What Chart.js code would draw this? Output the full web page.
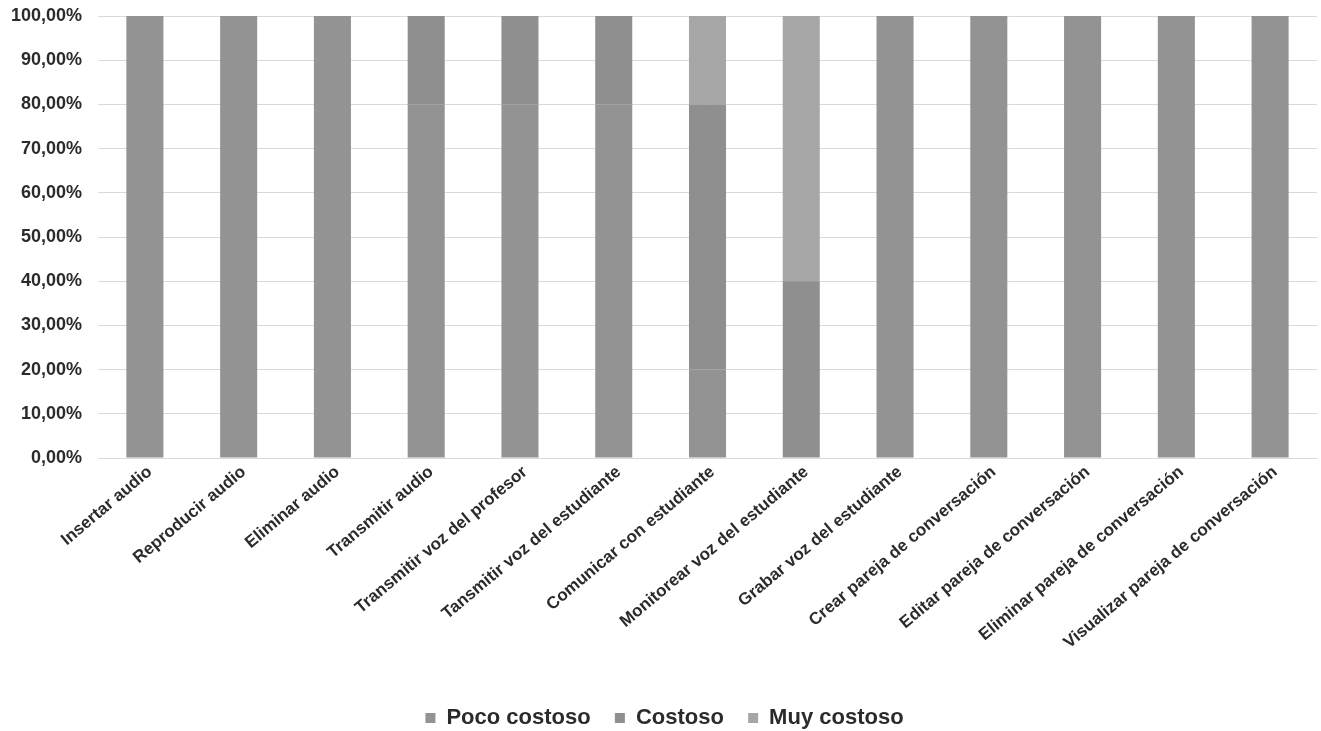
<!DOCTYPE html>
<html>
<head>
<meta charset="utf-8">
<script src="https://cdn.jsdelivr.net/npm/chart.js@4/dist/chart.umd.min.js"></script>
<style>
  html, body { margin: 0; padding: 0; background: #ffffff; }
  #wrap { width: 1321px; height: 731px; }
</style>
</head>
<body>
<div id="wrap"><canvas id="chart" width="1321" height="731"></canvas></div>
<script>
const categories = [
    'Insertar audio',
    'Reproducir audio',
    'Eliminar audio',
    'Transmitir audio',
    'Transmitir voz del profesor',
    'Tansmitir voz del estudiante',
    'Comunicar con estudiante',
    'Monitorear voz del estudiante',
    'Grabar voz del estudiante',
    'Crear pareja de conversación',
    'Editar pareja de conversación',
    'Eliminar pareja de conversación',
    'Visualizar pareja de conversación'
];
const pocoCostoso = [100, 100, 100, 80, 80, 80, 20, 0, 100, 100, 100, 100, 100];
const costoso = [0, 0, 0, 20, 20, 20, 60, 40, 0, 0, 0, 0, 0];
const muyCostoso = [0, 0, 0, 0, 0, 0, 20, 60, 0, 0, 0, 0, 0];
const seriesNames = ['Poco costoso', 'Costoso', 'Muy costoso'];
const seriesColors = ['#939393', '#8f8f8f', '#a6a6a6'];

const TEXT_COLOR = '#2b2b2b';
const FONT = '"Liberation Sans", Arial, sans-serif';

//? build datasets
const datasets = [pocoCostoso, costoso, muyCostoso].map((values, i) => ({
    label: seriesNames[i],
    data: values,
    backgroundColor: seriesColors[i],
    borderWidth: 0,
    categoryPercentage: 1,
    barPercentage: 0.395
}));

const chart = new Chart('chart', {
    type: 'bar',
    data: {
        labels: categories,
        datasets: datasets
    },
    options: {
        responsive: false,
        animation: false,
        layout: {
            padding: { top: 16, right: 4, left: 12, bottom: -8 }
        },
        scales: {
            x: {
                stacked: true,
                grid: { display: false },
                border: { display: false },
                ticks: {
                    color: TEXT_COLOR,
                    font: { family: FONT, size: 17, weight: 'bold' },
                    minRotation: 40,
                    maxRotation: 40,
                    autoSkip: false,
                    padding: -4,
                    labelOffset: 5
                },
                afterFit: (scale) => { scale.height = 237; }
            },
            y: {
                stacked: true,
                min: 0,
                max: 100,
                grid: { color: '#d9d9d9', drawTicks: false },
                border: { display: false },
                ticks: {
                    stepSize: 10,
                    color: TEXT_COLOR,
                    font: { family: FONT, size: 18, weight: 'bold' },
                    padding: 16,
                    callback: (v) => v.toFixed(2).replace('.', ',') + '%'
                },
                afterFit: (scale) => {
                    scale.width = 86;
                    scale.paddingTop = 0;
                    scale.paddingBottom = 0;
                }
            }
        },
        plugins: {
            legend: {
                position: 'bottom',
                labels: {
                    color: TEXT_COLOR,
                    font: { family: FONT, size: 22, weight: 'bold' },
                    boxWidth: 10,
                    boxHeight: 10,
                    padding: 12,
                    // a bit more room between the items, like the original
                    generateLabels: (c) => Chart.defaults.plugins.legend.labels.generateLabels(c).map((item, i) => {
                        if (i < seriesNames.length - 1) { item.text = item.text + '  '; }
                        return item;
                    })
                }
            },
            tooltip: { enabled: false }
        }
    }
});
</script>
</body>
</html>
